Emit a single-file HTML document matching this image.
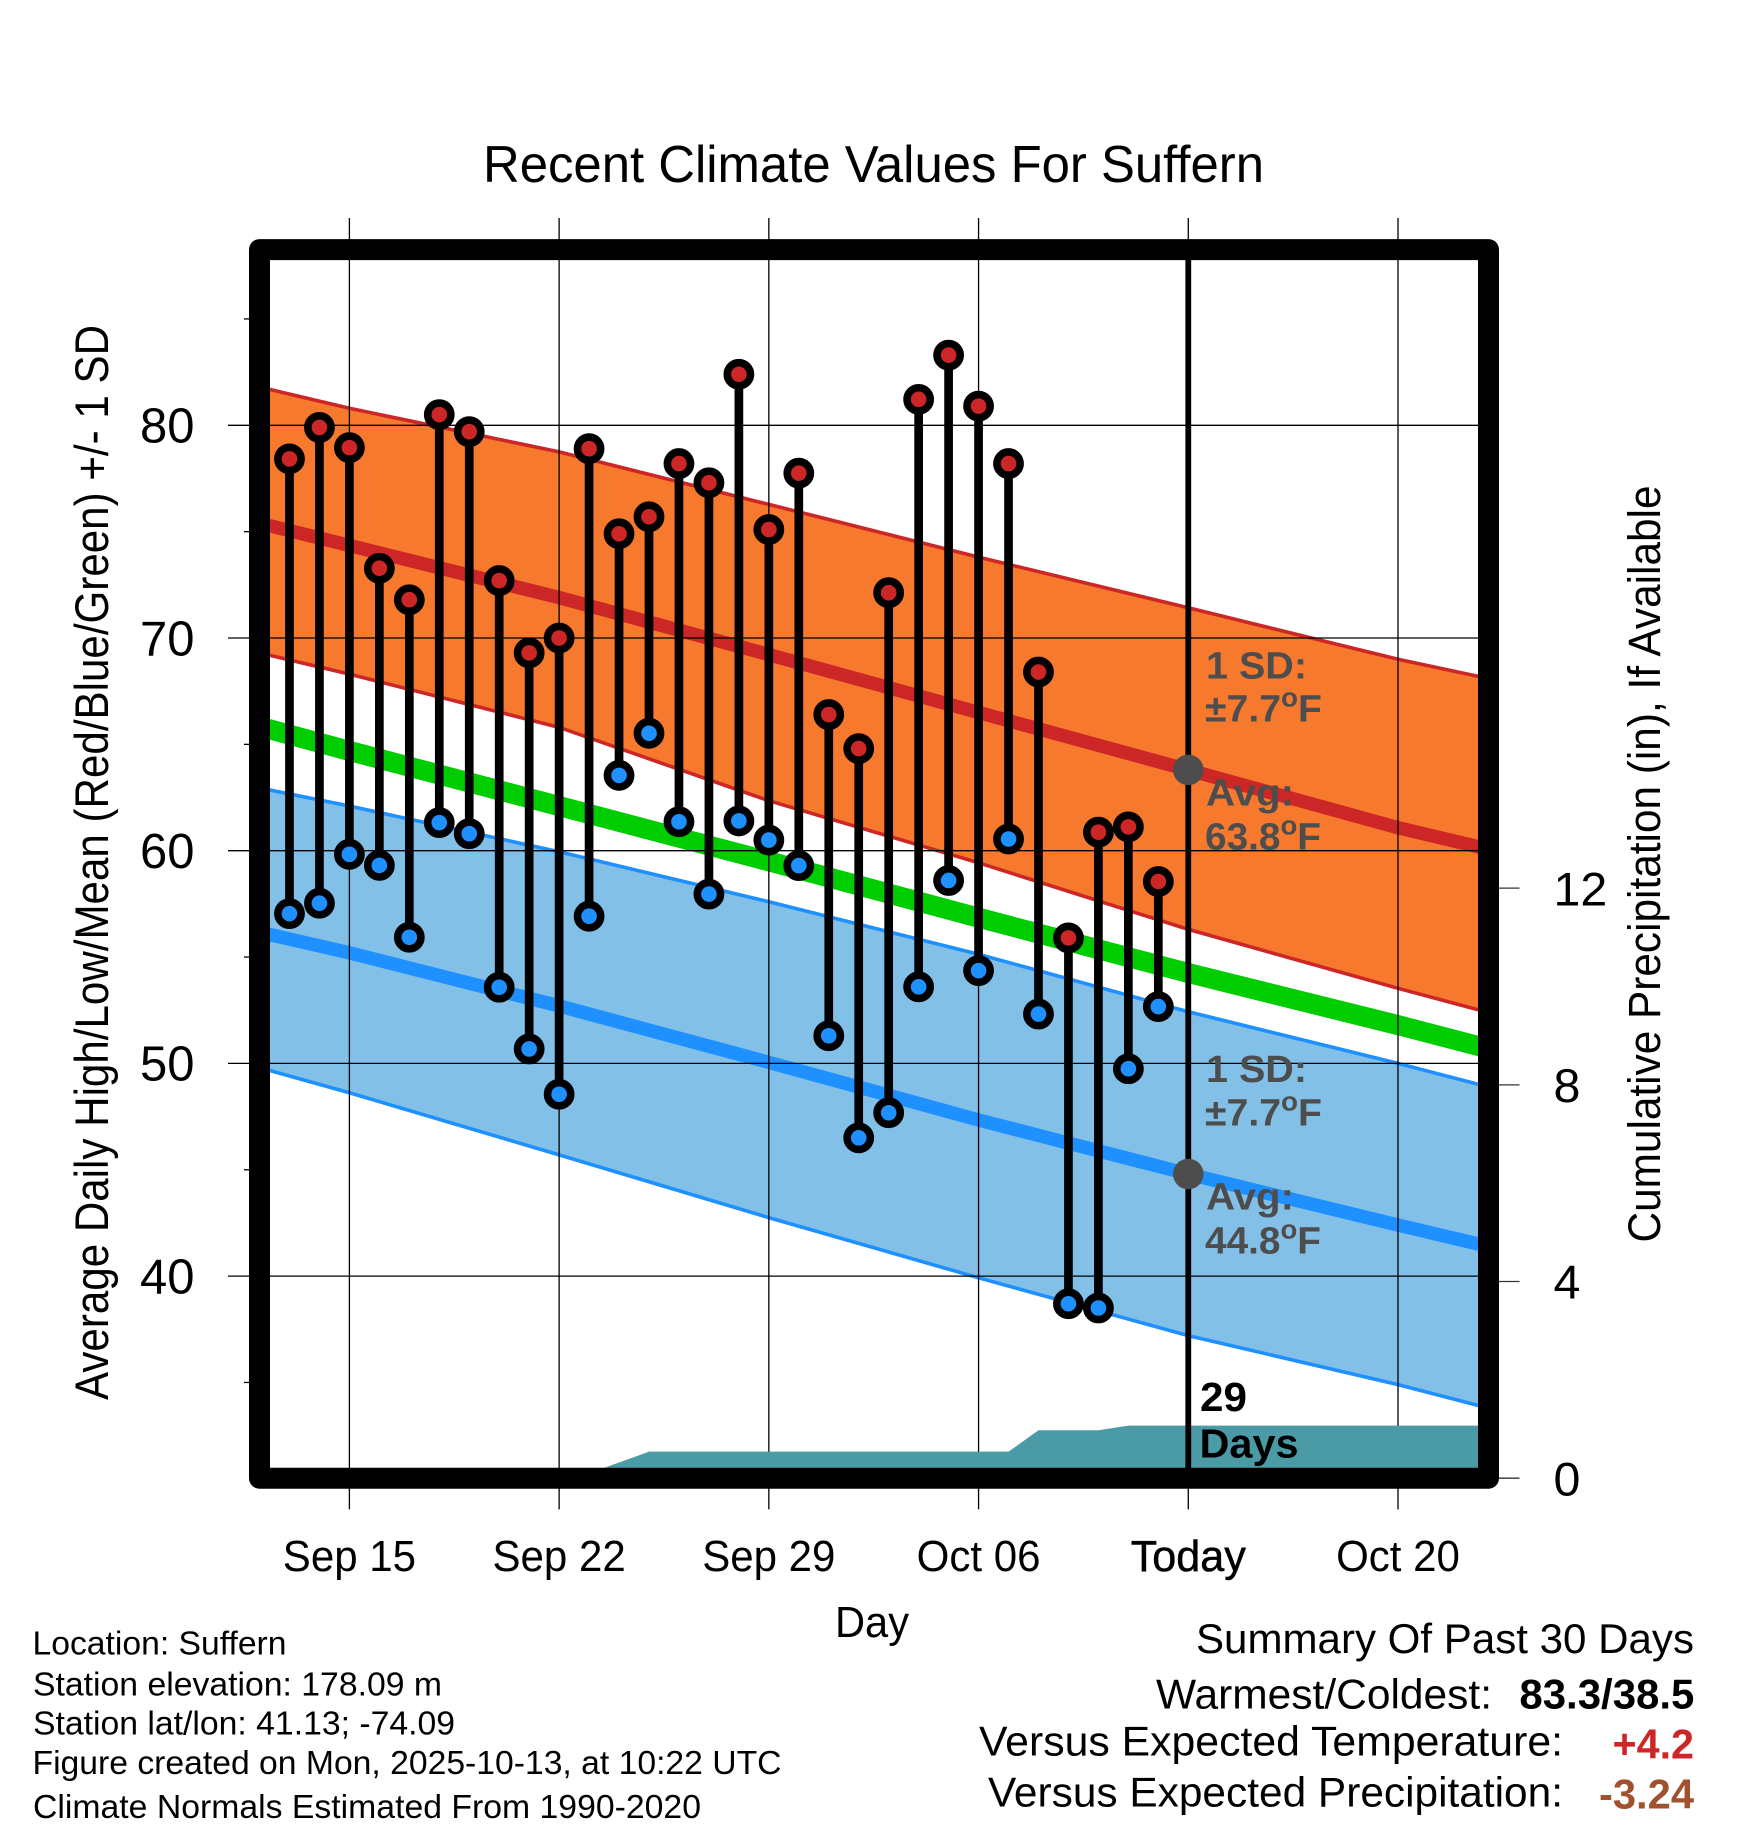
<!DOCTYPE html>
<html>
<head>
<meta charset="utf-8">
<title>Recent Climate Values For Suffern</title>
<style>
html,body{margin:0;padding:0;background:#fff;}
svg{display:block;}
text{font-family:"Liberation Sans",Arial,sans-serif;fill:#000;}
.b{font-weight:bold;}
.g{font-weight:bold;fill:#4D4D4D;}
</style>
</head>
<body>
<svg id="chart" xmlns="http://www.w3.org/2000/svg" width="1748" height="1828" viewBox="0 0 1748 1828">
  <defs><clipPath id="plot-clip"><rect x="259" y="250" width="1229" height="1228"/></clipPath></defs>
  <rect x="0" y="0" width="1748" height="1828" fill="#fff"/>
  <text x="873.5" y="182" font-size="52" text-anchor="middle" textLength="781" lengthAdjust="spacingAndGlyphs">Recent Climate Values For Suffern</text>
  <g id="plot" clip-path="url(#plot-clip)"></g>
  <g id="axes"></g>
  <g id="marks"></g>
  <g>
    <text class="g" x="1206" y="678.5" font-size="38" textLength="101" lengthAdjust="spacingAndGlyphs">1 SD:</text>
    <text class="g" x="1205" y="721.7" font-size="38" textLength="117" lengthAdjust="spacingAndGlyphs">±7.7<tspan dy="-15" font-size="27">o</tspan><tspan dy="15">F</tspan></text>
    <text class="g" x="1206" y="805.5" font-size="38" textLength="88" lengthAdjust="spacingAndGlyphs">Avg:</text>
    <text class="g" x="1205" y="849.3" font-size="38" textLength="116" lengthAdjust="spacingAndGlyphs">63.8<tspan dy="-15" font-size="27">o</tspan><tspan dy="15">F</tspan></text>
  </g>
  <g>
    <text class="g" x="1206" y="1082.2" font-size="38" textLength="101" lengthAdjust="spacingAndGlyphs">1 SD:</text>
    <text class="g" x="1205" y="1125.4" font-size="38" textLength="117" lengthAdjust="spacingAndGlyphs">±7.7<tspan dy="-15" font-size="27">o</tspan><tspan dy="15">F</tspan></text>
    <text class="g" x="1206" y="1209.5" font-size="38" textLength="88" lengthAdjust="spacingAndGlyphs">Avg:</text>
    <text class="g" x="1205" y="1253.3" font-size="38" textLength="116" lengthAdjust="spacingAndGlyphs">44.8<tspan dy="-15" font-size="27">o</tspan><tspan dy="15">F</tspan></text>
  </g>
  <text class="b" x="1200" y="1411" font-size="41" textLength="47" lengthAdjust="spacingAndGlyphs">29</text>
  <text class="b" x="1199.5" y="1457.6" font-size="41" textLength="99" lengthAdjust="spacingAndGlyphs">Days</text>
  <rect x="259.5" y="249.6" width="1229" height="1228.6" fill="none" stroke="#000" stroke-width="21" stroke-linejoin="round"/>
  <text x="872" y="1637" font-size="44" text-anchor="middle" textLength="74" lengthAdjust="spacingAndGlyphs">Day</text>
  <text transform="translate(108,862.5) rotate(-90)" x="0" y="0" font-size="47" text-anchor="middle" textLength="1075" lengthAdjust="spacingAndGlyphs">Average Daily High/Low/Mean (Red/Blue/Green) +/- 1 SD</text>
  <text transform="translate(1660,864) rotate(-90)" x="0" y="0" font-size="45" text-anchor="middle" textLength="757" lengthAdjust="spacingAndGlyphs">Cumulative Precipitation (in), If Available</text>
  <g>
    <text x="32.5" y="1654.5" font-size="33" textLength="254" lengthAdjust="spacingAndGlyphs">Location: Suffern</text>
    <text x="33" y="1695.6" font-size="33" textLength="409" lengthAdjust="spacingAndGlyphs">Station elevation: 178.09 m</text>
    <text x="33" y="1734.7" font-size="33" textLength="422" lengthAdjust="spacingAndGlyphs">Station lat/lon: 41.13; -74.09</text>
    <text x="32.5" y="1774" font-size="33" textLength="749" lengthAdjust="spacingAndGlyphs">Figure created on Mon, 2025-10-13, at 10:22 UTC</text>
    <text x="33" y="1817.8" font-size="33" textLength="668" lengthAdjust="spacingAndGlyphs">Climate Normals Estimated From 1990-2020</text>
  </g>
  <g>
    <text x="1196" y="1653" font-size="42" textLength="498" lengthAdjust="spacingAndGlyphs">Summary Of Past 30 Days</text>
    <text x="1156" y="1708.5" font-size="42" textLength="336" lengthAdjust="spacingAndGlyphs">Warmest/Coldest:</text>
    <text class="b" x="1519.4" y="1708.5" font-size="42" textLength="175" lengthAdjust="spacingAndGlyphs">83.3/38.5</text>
    <text x="979" y="1755.5" font-size="42" textLength="584" lengthAdjust="spacingAndGlyphs">Versus Expected Temperature:</text>
    <text class="b" x="1612.5" y="1758.6" font-size="42" textLength="81.5" lengthAdjust="spacingAndGlyphs" style="fill:#CD2626">+4.2</text>
    <text x="988" y="1806.5" font-size="42" textLength="575" lengthAdjust="spacingAndGlyphs">Versus Expected Precipitation:</text>
    <text class="b" x="1599" y="1808.4" font-size="42" textLength="95" lengthAdjust="spacingAndGlyphs" style="fill:#A0522D">-3.24</text>
  </g>
</svg>
<script>
// Days are counted from Sep 15 (day 0); Today (Oct 13) is day 28.
const dailyDays = [-2,-1,0,1,2,3,4,5,6,7,8,9,10,11,12,13,14,15,16,17,18,19,20,21,22,23,24,25,26,27];
const dailyHighs = [78.42,79.9,78.95,73.28,71.8,80.5,79.7,72.7,69.3,70.0,78.9,74.9,75.7,78.2,77.3,82.4,75.1,77.75,66.4,64.8,72.13,81.22,83.3,80.9,78.2,68.4,55.9,60.87,61.12,58.55];
const dailyLows = [57.04,57.53,59.83,59.31,55.93,61.32,60.8,53.58,50.68,48.55,56.92,63.54,65.52,61.36,57.96,61.4,60.5,59.3,51.3,46.5,47.68,53.6,58.6,54.36,60.55,52.32,38.7,38.5,49.75,52.67];
const normalDays = [-3,0,7,14,21,28,35,38];
const highAvg = [75.4,74.35,71.9,69.22,66.5,63.8,61.08,60.08];
const highUpper = [81.8,80.8,78.75,76.28,73.8,71.42,69.0,68.1];
const highLower = [69.3,68.3,65.8,62.35,59.43,56.3,53.53,52.4];
const meanAvg = [65.84,64.69,62.1,59.5,56.85,54.25,51.8,50.7];
const lowAvg = [56.17,55.2,52.7,50.05,47.34,44.8,42.4,41.4];
const lowUpper = [62.95,62.1,59.95,57.6,55.13,52.43,50.0,48.9];
const lowLower = [49.8,48.62,45.7,42.75,39.92,37.2,34.9,33.8];
const precipDays = [-3,7,8,9,10,22,23,25,26,39];
const precipValues = [0,0,0.1,0.32,0.54,0.54,0.974,0.974,1.07,1.07];
const xTickDays = [0,7,14,21,28,35];
const xTickLabels = ['Sep 15','Sep 22','Sep 29','Oct 06','Today','Oct 20'];
const yMajorTicks = [40,50,60,70,80];
const yMinorTicks = [35,45,55,65,75,85];
const precipTicks = [0,4,8,12];
const todayDay = 28;
const todayHigh = 63.8;
const todayLow = 44.8;

const NS = 'http://www.w3.org/2000/svg';
function x(d){ return 349.4 + 29.96 * d; }
function y(f){ return 850.7 - (f - 60) * 21.27; }
function yP(p){ return 1478.2 - p * 49.17; }
function make(tag, parent, attrs){
  const el = document.createElementNS(NS, tag);
  for (const k in attrs) el.setAttribute(k, attrs[k]);
  parent.appendChild(el);
  return el;
}
function pts(days, vals){ return days.map((d,i)=> x(d).toFixed(2)+','+y(vals[i]).toFixed(2)).join(' '); }
function band(parent, upper, lower, fill, name){
  const lowerPts = normalDays.slice().reverse().map((d,i)=> x(d).toFixed(2)+','+y(lower[lower.length-1-i]).toFixed(2)).join(' ');
  const el = make('polygon', parent, {points: pts(normalDays, upper)+' '+lowerPts, fill: fill});
  
  
}
function curve(parent, vals, color, w, name){
  const el = make('polyline', parent, {points: pts(normalDays, vals), fill:'none', stroke: color, 'stroke-width': w});
  
  
}
function label(parent, str, px, py, size, anchor, squeeze, name){
  const el = make('text', parent, {x:px, y:py, 'font-size':size, 'text-anchor':anchor});
  el.textContent = str;
  
  
  const w = el.getComputedTextLength();
  el.setAttribute('textLength', (w * squeeze).toFixed(1));
  el.setAttribute('lengthAdjust', 'spacingAndGlyphs');
  return el;
}

const plot = document.getElementById('plot');
const axes = document.getElementById('axes');
const marks = document.getElementById('marks');

band(plot, highUpper, highLower, '#F6792D', 'high-sd-band');
band(plot, lowUpper, lowLower, '#83C0E8', 'low-sd-band');
curve(plot, highUpper, '#CD2626', 3.6, 'high-upper-edge');
curve(plot, highLower, '#CD2626', 3.6, 'high-lower-edge');
curve(plot, lowUpper, '#1E90FF', 3.6, 'low-upper-edge');
curve(plot, lowLower, '#1E90FF', 3.6, 'low-lower-edge');
curve(plot, highAvg, '#CD2626', 13.5, 'high-average-line');
curve(plot, meanAvg, '#00CD00', 20, 'mean-average-line');
curve(plot, lowAvg, '#1E90FF', 13.5, 'low-average-line');

yMajorTicks.forEach(function(v){
  const g = make('line', axes, {x1:228, x2:1478, y1:y(v), y2:y(v), stroke:'#000', 'stroke-width':1.3});
  
  
  label(axes, String(v), 194.5, y(v)+17.3, 49, 'end', 1.0, 'y-tick-label');
});
yMinorTicks.forEach(function(v){
  const t = make('line', axes, {x1:244, x2:250, y1:y(v), y2:y(v), stroke:'#000', 'stroke-width':1.3});
  
  
});
xTickDays.forEach(function(d,i){
  const g = make('line', axes, {x1:x(d), x2:x(d), y1:218, y2:1509.4, stroke:'#000', 'stroke-width':1.3});
  
  
  const isToday = xTickLabels[i] === 'Today';
  const t = label(axes, xTickLabels[i], x(d), 1571, 44, 'middle', isToday ? 0.98 : 0.955, isToday ? 'today-tick-label' : 'x-tick-label');
  if (isToday) { t.setAttribute('stroke', '#000'); t.setAttribute('stroke-width', '0.5'); }
});
precipTicks.forEach(function(p){
  const t = make('line', axes, {x1:1499, x2:1519.5, y1:yP(p), y2:yP(p), stroke:'#333', 'stroke-width':1.3});
  
  
  label(axes, String(p), 1553.5, yP(p)+17.2, 47, 'start', 1.03, 'precip-tick-label');
});

const teal = make('polygon', axes, {
  points: precipDays.map((d,i)=> x(d).toFixed(2)+','+yP(precipValues[i]).toFixed(2)).join(' ')
    + ' ' + x(precipDays[precipDays.length-1]).toFixed(2)+','+yP(0)+' '+x(precipDays[0]).toFixed(2)+','+yP(0),
  fill:'#4A9BA6', 'clip-path':'url(#plot-clip)'
});



const todayLine = make('line', axes, {x1:x(todayDay), x2:x(todayDay), y1:250, y2:1478, stroke:'#000', 'stroke-width':5.8});



dailyDays.forEach(function(d,i){
  const stem = make('line', marks, {x1:x(d), x2:x(d), y1:y(dailyHighs[i]), y2:y(dailyLows[i]), stroke:'#000', 'stroke-width':8.7});
  
  
  const hi = make('circle', marks, {cx:x(d), cy:y(dailyHighs[i]), r:11.6, fill:'#CD2626', stroke:'#000', 'stroke-width':7.6});
  
  
  const lo = make('circle', marks, {cx:x(d), cy:y(dailyLows[i]), r:11.6, fill:'#1E90FF', stroke:'#000', 'stroke-width':7.6});
  
  
});
const dotHigh = make('circle', marks, {cx:x(todayDay), cy:y(todayHigh), r:15.3, fill:'#4D4D4D'});


const dotLow = make('circle', marks, {cx:x(todayDay), cy:y(todayLow), r:15.3, fill:'#4D4D4D'});


</script>
</body>
</html>
